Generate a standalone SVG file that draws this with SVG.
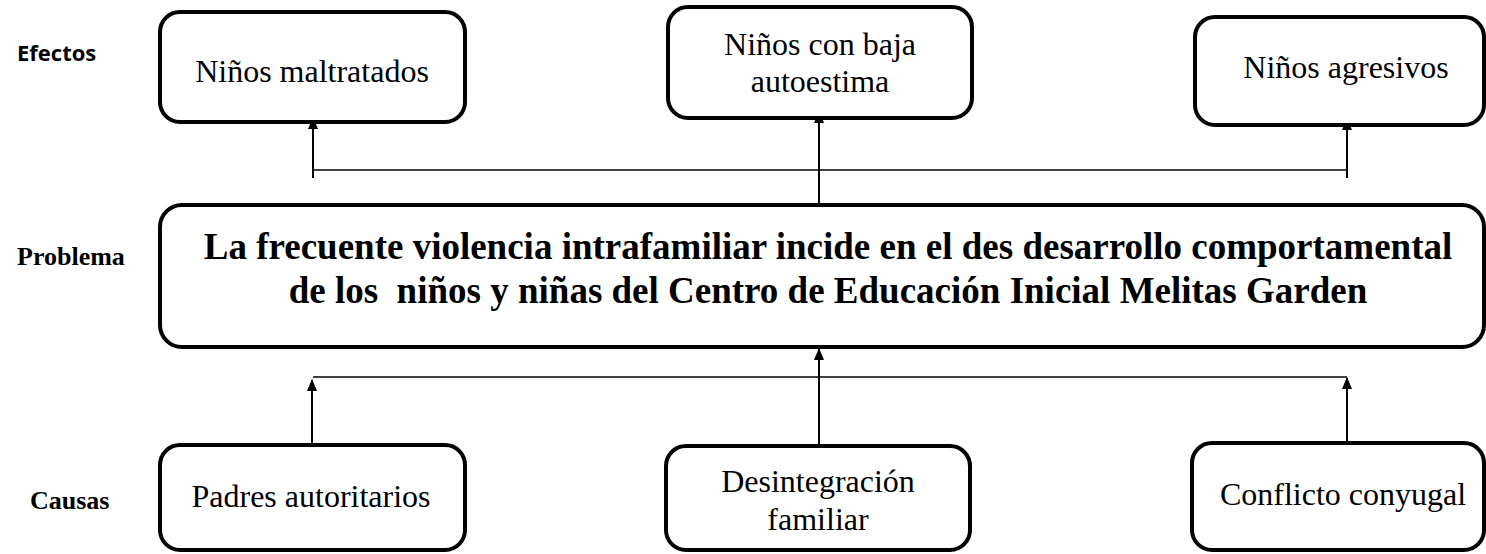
<svg xmlns="http://www.w3.org/2000/svg" width="1486" height="554" viewBox="0 0 1486 554">
<style>
.box{fill:#fff;stroke:#000;stroke-width:4}
.t{font-family:"Liberation Serif","Times New Roman",serif;font-size:32px;fill:#000;text-anchor:middle}
.big{font-family:"Liberation Serif","Times New Roman",serif;font-size:37px;font-weight:bold;fill:#000;text-anchor:middle}
.lbl{font-family:"Liberation Serif","Times New Roman",serif;font-size:26px;font-weight:bold;fill:#000}
.lbls{font-family:"Open Sans","Liberation Sans",sans-serif;font-size:22px;font-weight:bold;fill:#000}
.c{fill:none;stroke:#000;stroke-width:2}
.h{fill:none;stroke:#000;stroke-width:1.5}
</style>
<defs>
<marker id="ah" markerUnits="userSpaceOnUse" markerWidth="12" markerHeight="10" viewBox="0 0 12 10" refX="11" refY="5" orient="auto">
<path d="M0,0 L12,5 L0,10 z" fill="#000"/>
</marker>
</defs>
<rect width="1486" height="554" fill="#fff"/>
<g id="labels">
<text class="lbls" x="17" y="61">Efectos</text>
<text class="lbl" x="17" y="265">Problema</text>
<text class="lbl" x="30" y="509">Causas</text>
</g>
<g id="connectors">
<line class="h" x1="313" y1="170" x2="1347" y2="170"/>
<line class="c" x1="313" y1="178" x2="313" y2="118" marker-end="url(#ah)"/>
<line class="c" x1="1347" y1="178" x2="1347" y2="119" marker-end="url(#ah)"/>
<line class="c" x1="819" y1="215" x2="819" y2="112" marker-end="url(#ah)"/>
<line class="h" x1="313" y1="377" x2="1347" y2="377"/>
<line class="c" x1="312" y1="445" x2="312" y2="380" marker-end="url(#ah)"/>
<line class="c" x1="819" y1="445" x2="819" y2="349" marker-end="url(#ah)"/>
<line class="c" x1="1347" y1="441" x2="1347" y2="378" marker-end="url(#ah)"/>
</g>
<g id="efecto1">
<rect class="box" x="160" y="12" width="305" height="110" rx="20"/>
<text class="t" x="312" y="82">Niños maltratados</text>
</g>
<g id="efecto2">
<rect class="box" x="668" y="7" width="304" height="111" rx="20"/>
<text class="t" x="820" y="55">Niños con baja</text>
<text class="t" x="820" y="92">autoestima</text>
</g>
<g id="efecto3">
<rect class="box" x="1195" y="17" width="289" height="108" rx="20"/>
<text class="t" x="1346" y="78">Niños agresivos</text>
</g>
<g id="problema">
<rect class="box" x="160" y="205" width="1324" height="142" rx="22"/>
<text class="big" x="828" y="259">La frecuente violencia intrafamiliar incide en el des desarrollo comportamental</text>
<text class="big" x="828" y="303" xml:space="preserve">de los  niños y niñas del Centro de Educación Inicial Melitas Garden</text>
</g>
<g id="causa1">
<rect class="box" x="160" y="445" width="305" height="105" rx="20"/>
<text class="t" x="311" y="507">Padres autoritarios</text>
</g>
<g id="causa2">
<rect class="box" x="666" y="446" width="304" height="104" rx="20"/>
<text class="t" x="818" y="492">Desintegración</text>
<text class="t" x="818" y="530">familiar</text>
</g>
<g id="causa3">
<rect class="box" x="1192" y="443" width="292" height="107" rx="20"/>
<text class="t" x="1343" y="505">Conflicto conyugal</text>
</g>
</svg>
